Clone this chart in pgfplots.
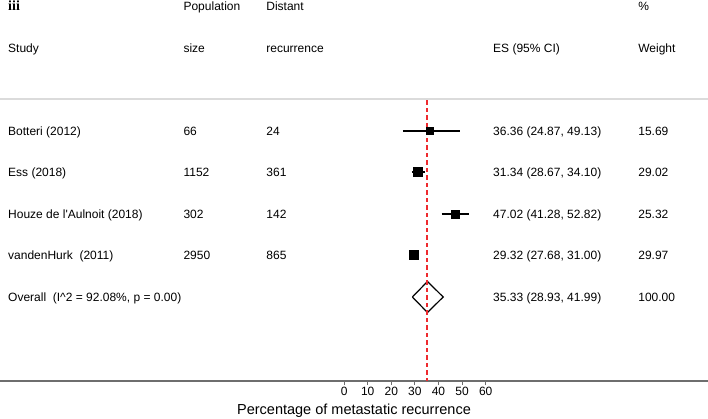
\documentclass[border=0pt]{standalone}
\usepackage{pgfplots}
\pgfplotsset{compat=1.18}
\usepackage{fontspec}
\setmainfont{Liberation Sans}
\newfontfamily\serifb{Liberation Serif}
\definecolor{refred}{RGB}{238,42,46}
\definecolor{axgray}{HTML}{6E6E6E}
\begin{document}
\begin{tikzpicture}
\tikzset{txt/.style={anchor=base west, inner sep=0pt, yshift=-4.3bp, font=\fontsize{12bp}{14bp}\selectfont}}
\begin{axis}[
  at={(0bp,38bp)}, anchor=south west,
  scale only axis, width=708bp, height=381bp,
  xmin=-145.8, xmax=154.2, ymin=38, ymax=419,
  axis x line*=bottom, axis y line=none,
  x axis line style={axgray, line width=1.3bp},
  xtick={0,10,...,60},
  tick align=outside, major tick length=4bp,
  tick style={axgray, line width=0.8bp},
  /pgf/number format/assume math mode=true,
  xticklabel style={font=\fontsize{12bp}{14bp}\selectfont, inner sep=1bp, yshift=-1bp},
  xlabel={Percentage of metastatic recurrence},
  xlabel style={font=\fontsize{14.5bp}{16bp}\selectfont, at={(axis description cs:0.5,0)}, anchor=center, yshift=-30bp},
  clip=false,
]
% light gray separator
\addplot[color=black!14, line width=1.5bp] coordinates {(-145.8,320) (154.2,320)};
% confidence intervals
\addplot[black, line width=1.1bp] coordinates {(24.87,288) (49.13,288)};
\addplot[black, line width=1.1bp] coordinates {(28.67,247) (34.10,247)};
\addplot[black, line width=1.1bp] coordinates {(41.28,205) (52.82,205)};
\addplot[black, line width=1.1bp] coordinates {(27.68,164) (31.00,164)};
% weight boxes
\addplot[only marks, mark=square*, mark size=3.3bp, black] coordinates {(36.36,288)};
\addplot[only marks, mark=square*, mark size=4.4bp, black] coordinates {(31.34,247)};
\addplot[only marks, mark=square*, mark size=4.1bp, black] coordinates {(47.02,205)};
\addplot[only marks, mark=square*, mark size=4.5bp, black] coordinates {(29.32,164)};
% diamond
\addplot[black, line width=1.2bp] coordinates {(28.93,122) (35.33,137.5) (41.99,122) (35.33,106.5) (28.93,122)};
% red dashed overall line
\addplot[draw=refred, line width=2bp, dash pattern=on 4.5bp off 3bp, mark=none] table {
x y
35.33 318.5
35.33 38
};

% header
\node[anchor=base west, inner sep=0pt, font=\serifb\bfseries\fontsize{14bp}{16bp}\selectfont] at (axis cs:-142.4,408) {iii};
\node[txt] at (axis cs:-68.1,413) {Population};
\node[txt] at (axis cs:-33.0,413) {Distant};
\node[txt] at (axis cs:124.6,413) {\%};
\node[txt] at (axis cs:-142.4,371) {Study};
\node[txt] at (axis cs:-68.1,371) {size};
\node[txt] at (axis cs:-33.0,371) {recurrence};
\node[txt] at (axis cs:63.1,371) {ES (95\% CI)};
\node[txt] at (axis cs:124.6,371) {Weight};
% rows
\node[txt] at (axis cs:-142.4,288) {Botteri (2012)};
\node[txt] at (axis cs:-68.1,288) {66};
\node[txt] at (axis cs:-33.0,288) {24};
\node[txt] at (axis cs:63.1,288) {36.36 (24.87, 49.13)};
\node[txt] at (axis cs:124.6,288) {15.69};
\node[txt] at (axis cs:-142.4,247) {Ess (2018)};
\node[txt] at (axis cs:-68.1,247) {1152};
\node[txt] at (axis cs:-33.0,247) {361};
\node[txt] at (axis cs:63.1,247) {31.34 (28.67, 34.10)};
\node[txt] at (axis cs:124.6,247) {29.02};
\node[txt] at (axis cs:-142.4,205) {Houze de l\textquotesingle Aulnoit (2018)};
\node[txt] at (axis cs:-68.1,205) {302};
\node[txt] at (axis cs:-33.0,205) {142};
\node[txt] at (axis cs:63.1,205) {47.02 (41.28, 52.82)};
\node[txt] at (axis cs:124.6,205) {25.32};
\node[txt] at (axis cs:-142.4,164) {vandenHurk\ \ (2011)};
\node[txt] at (axis cs:-68.1,164) {2950};
\node[txt] at (axis cs:-33.0,164) {865};
\node[txt] at (axis cs:63.1,164) {29.32 (27.68, 31.00)};
\node[txt] at (axis cs:124.6,164) {29.97};
\node[txt] at (axis cs:-142.4,122) {Overall\ \ (I\^{}2 = 92.08\%, p = 0.00)};
\node[txt] at (axis cs:63.1,122) {35.33 (28.93, 41.99)};
\node[txt] at (axis cs:124.6,122) {100.00};
\end{axis}
\pgfresetboundingbox
\useasboundingbox (0,0) rectangle (708bp,419bp);
\end{tikzpicture}
\end{document}
